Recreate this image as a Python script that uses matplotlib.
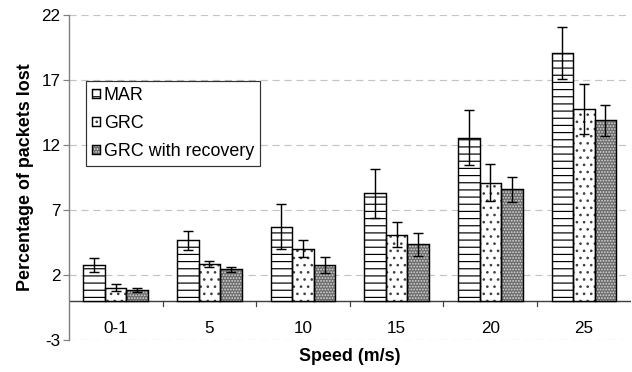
import matplotlib
matplotlib.use("Agg")
import matplotlib.pyplot as plt
import numpy as np
from matplotlib.legend_handler import HandlerTuple

plt.rcParams['font.family'] = ['Liberation Sans', 'DejaVu Sans']

categories = ["0-1", "5", "10", "15", "20", "25"]
series_names = ["MAR", "GRC", "GRC with recovery"]
mar = [2.76, 4.68, 5.72, 8.27, 12.56, 19.04]
mar_err = [0.55, 0.74, 1.74, 1.9, 2.1, 2.0]
grc = [1.03, 2.84, 4.02, 5.09, 9.11, 14.77]
grc_err = [0.25, 0.26, 0.66, 0.96, 1.4, 1.9]
rec = [0.85, 2.43, 2.76, 4.35, 8.6, 13.89]
rec_err = [0.15, 0.2, 0.61, 0.89, 0.95, 1.17]
yticks = [-3, 2, 7, 12, 17, 22]

DPI = 86
FS = 14.3
FSL = 15.0
fig = plt.figure(figsize=(632 / DPI, 372 / DPI), dpi=DPI)
ax = fig.add_axes([0.109, 0.086, 0.889, 0.874])

x = np.arange(len(categories))
w = 0.23
styles = [
    dict(facecolor='white', hatch='--', hatchcol='black'),
    dict(facecolor='white', hatch='..', hatchcol='#404040'),
    dict(facecolor='#6c6c6c', hatch='.....', hatchcol='#d8d8d8'),
]
data = [(mar, mar_err), (grc, grc_err), (rec, rec_err)]
handles = []
for i, ((vals, errs), st, name) in enumerate(zip(data, styles, series_names)):
    pos = x + (i - 1) * w
    ax.bar(pos, vals, w, facecolor=st['facecolor'], hatch=st['hatch'],
           edgecolor=st['hatchcol'], linewidth=0, zorder=2)
    ax.bar(pos, vals, w, facecolor='none', edgecolor='black',
           linewidth=1.2, zorder=3)
    ax.errorbar(pos, vals, yerr=errs, fmt='none', ecolor='black',
                elinewidth=1.2, capsize=4.6, capthick=1.2, zorder=4)
    h = matplotlib.patches.Patch(facecolor=st['facecolor'], hatch=st['hatch'],
                                 edgecolor=st['hatchcol'], linewidth=0)
    h2 = matplotlib.patches.Patch(facecolor='none', edgecolor='black', linewidth=1.2)
    handles.append((h, h2))

ax.set_xlim(-0.5, len(categories) - 0.5)
ax.set_ylim(-3, 22)
ax.set_yticks(yticks)
ax.set_yticklabels([str(t) for t in yticks], fontsize=FS)
ax.yaxis.grid(True, linestyle=(0, (6, 4)), color='#c4c4c4', linewidth=1.0, zorder=0)
ax.set_axisbelow(True)

for s in ['top', 'right', 'bottom']:
    ax.spines[s].set_visible(False)
ax.spines['left'].set_color('#808080')
ax.spines['left'].set_linewidth(1.2)
ax.tick_params(axis='y', length=5, width=1.0, color='#808080', pad=2)

# zero line with category boundary ticks
ax.axhline(0, color='#404040', linewidth=1.2, zorder=1)
ax.set_xticks([])
for b_ in np.arange(0.5, len(categories) - 0.5, 1.0):
    ax.plot([b_, b_], [0, -0.4], color='#404040', linewidth=1.0, zorder=1)
for xi, c in zip(x, categories):
    ax.text(xi, -2.1, c, ha='center', va='center', fontsize=FS)

ax.set_xlabel("Speed (m/s)", fontsize=FSL, fontweight='bold', labelpad=7)
ax.set_ylabel("Percentage of packets lost", fontsize=FSL, fontweight='bold', labelpad=6)

leg = ax.legend(handles, series_names, loc='upper left', bbox_to_anchor=(0.03, 0.798),
                borderaxespad=0, fontsize=FSL, frameon=True, fancybox=False,
                edgecolor='black', handlelength=0.45, handleheight=0.45,
                handletextpad=0.2, labelspacing=0.62, borderpad=0.35,
                handler_map={tuple: HandlerTuple(ndivide=1, pad=0)})
leg.get_frame().set_linewidth(1.0)
leg.set_zorder(5)

fig.savefig("out.png", dpi=DPI)
